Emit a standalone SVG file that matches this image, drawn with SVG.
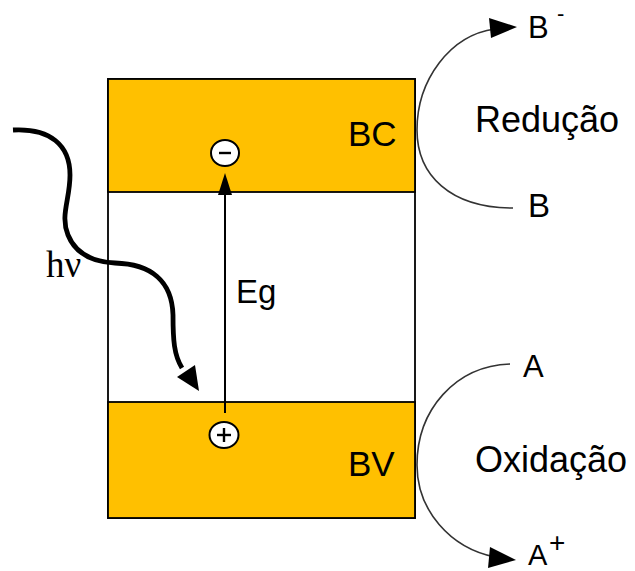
<svg xmlns="http://www.w3.org/2000/svg" width="635" height="571" viewBox="0 0 635 571">
<style>
.band{fill:#FFC000;stroke:#000;stroke-width:1.8}
.t{font-family:"Liberation Sans",Arial,sans-serif;fill:#000}
.curve{fill:none;stroke:#333;stroke-width:1.6}
.head{fill:#000}
.chg{fill:#fff;stroke:#000;stroke-width:2}
</style>
<rect width="635" height="571" fill="#fff"/>
<g id="gap"><rect x="108" y="79" width="307" height="439" fill="#fff" stroke="#000" stroke-width="1.8"/></g>
<g id="bc"><rect class="band" x="108" y="79" width="307" height="113"/><text class="t" x="348" y="146" font-size="35">BC</text></g>
<g id="bv"><rect class="band" x="108" y="402" width="307" height="116"/><text class="t" x="348" y="476" font-size="35">BV</text></g>
<g id="electron"><ellipse class="chg" cx="225" cy="153" rx="14" ry="13"/><line x1="219" y1="153" x2="231" y2="153" stroke="#000" stroke-width="2.4"/></g>
<g id="hole"><ellipse class="chg" cx="224" cy="435" rx="14.5" ry="13"/><line x1="217" y1="435" x2="231" y2="435" stroke="#000" stroke-width="2.4"/><line x1="224" y1="428" x2="224" y2="442" stroke="#000" stroke-width="2.4"/></g>
<g id="labels">
<text class="t" x="236" y="303" font-size="33">Eg</text>
<text x="46" y="277" font-size="37" font-family="'Liberation Serif','Times New Roman',serif">hν</text>
<text class="t" x="475" y="132" font-size="36">Redução</text>
<text class="t" x="475" y="472" font-size="36">Oxidação</text>
<text class="t" x="528" y="38" font-size="31">B<tspan x="557" y="21" font-size="22">-</tspan></text>
<text class="t" x="528" y="217" font-size="33">B</text>
<text class="t" x="523" y="377" font-size="31">A</text>
<text class="t" x="528" y="565" font-size="29">A<tspan x="549" y="552" font-size="28">+</tspan></text>
</g>
<g id="connectors">
<line x1="225" y1="413" x2="225" y2="190" stroke="#000" stroke-width="2"/>
<polygon class="head" points="225,173 218,195 232,195"/>
<path d="M13,130 C50,128 70,145 70,175 C70,200 60,215 68,235 C76,255 95,262 115,263 C150,264 172,280 173,315 C173,340 174,355 182,368" fill="none" stroke="#000" stroke-width="4.8"/>
<polygon class="head" points="199,391 177,377 195,365"/>
<path class="curve" d="M513,208 C450,208 417,175 417,130 C417,80 450,35 495,29"/>
<polygon class="head" points="517,27 489,18 491,38"/>
<path class="curve" d="M510,364 C455,366 417,410 417,465 C417,510 450,548 495,557"/>
<polygon class="head" points="516,560 490,547 488,568"/>
</g>
</svg>
